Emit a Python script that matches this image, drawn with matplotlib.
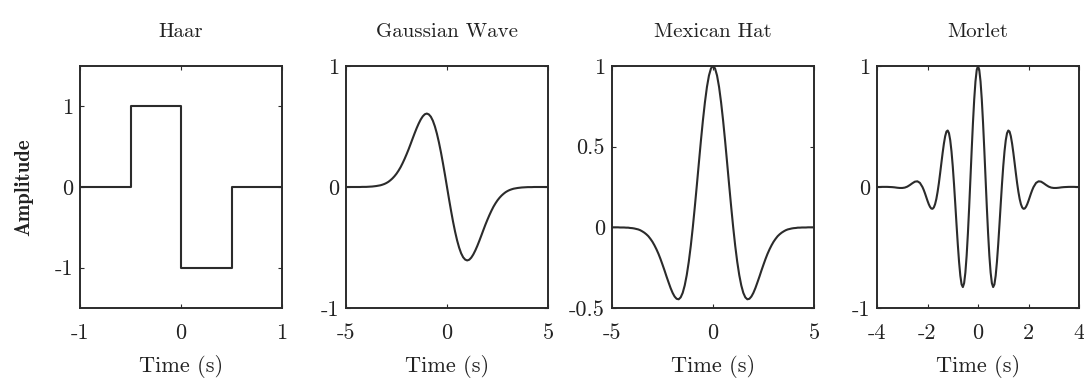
import matplotlib
matplotlib.use('Agg')
import matplotlib.pyplot as plt

plt.rcParams['font.family'] = 'cmr10'
plt.rcParams['axes.unicode_minus'] = False
plt.rcParams['mathtext.fontset'] = 'cm'

LINE = '#2b2b2b'
TEXT = '#222222'

# Haar (step function, value holds until next point)
haar_t = [-1, -0.5, 0, 0.5, 1]
haar_amp = [0, 1, -1, 0, 0]

# Gaussian wave and Mexican hat, read at 0.1 s steps
wave_t = [-5.0, -4.9, -4.8, -4.7, -4.6, -4.5, -4.4, -4.3, -4.2, -4.1,
          -4.0, -3.9, -3.8, -3.7, -3.6, -3.5, -3.4, -3.3, -3.2, -3.1,
          -3.0, -2.9, -2.8, -2.7, -2.6, -2.5, -2.4, -2.3, -2.2, -2.1,
          -2.0, -1.9, -1.8, -1.7, -1.6, -1.5, -1.4, -1.3, -1.2, -1.1,
          -1.0, -0.9, -0.8, -0.7, -0.6, -0.5, -0.4, -0.3, -0.2, -0.1,
          0.0,
          0.1, 0.2, 0.3, 0.4, 0.5, 0.6, 0.7, 0.8, 0.9, 1.0,
          1.1, 1.2, 1.3, 1.4, 1.5, 1.6, 1.7, 1.8, 1.9, 2.0,
          2.1, 2.2, 2.3, 2.4, 2.5, 2.6, 2.7, 2.8, 2.9, 3.0,
          3.1, 3.2, 3.3, 3.4, 3.5, 3.6, 3.7, 3.8, 3.9, 4.0,
          4.1, 4.2, 4.3, 4.4, 4.5, 4.6, 4.7, 4.8, 4.9, 5.0]

gauss_amp = [0, 0, 0, 0, 0, 0, 0, 0, 0.001, 0.001,
             0.001, 0.002, 0.003, 0.004, 0.006, 0.008, 0.011, 0.014, 0.019, 0.025,
             0.033, 0.043, 0.056, 0.071, 0.089, 0.110, 0.135, 0.163, 0.196, 0.232,
             0.271, 0.312, 0.356, 0.401, 0.445, 0.487, 0.525, 0.558, 0.584, 0.601,
             0.607, 0.600, 0.581, 0.548, 0.501, 0.441, 0.369, 0.287, 0.196, 0.100,
             0,
             -0.100, -0.196, -0.287, -0.369, -0.441, -0.501, -0.548, -0.581, -0.600, -0.607,
             -0.601, -0.584, -0.558, -0.525, -0.487, -0.445, -0.401, -0.356, -0.312, -0.271,
             -0.232, -0.196, -0.163, -0.135, -0.110, -0.089, -0.071, -0.056, -0.043, -0.033,
             -0.025, -0.019, -0.014, -0.011, -0.008, -0.006, -0.004, -0.003, -0.002, -0.001,
             -0.001, -0.001, 0, 0, 0, 0, 0, 0, 0, 0]

hat_amp = [0, 0, 0, 0, -0.001, -0.001, -0.001, -0.002, -0.002, -0.004,
           -0.005, -0.007, -0.010, -0.013, -0.018, -0.025, -0.033, -0.043, -0.055, -0.071,
           -0.089, -0.111, -0.136, -0.164, -0.196, -0.231, -0.267, -0.305, -0.341, -0.376,
           -0.406, -0.429, -0.443, -0.446, -0.434, -0.406, -0.360, -0.296, -0.214, -0.115,
           0, 0.127, 0.261, 0.399, 0.535, 0.662, 0.775, 0.870, 0.941, 0.985,
           1.0,
           0.985, 0.941, 0.870, 0.775, 0.662, 0.535, 0.399, 0.261, 0.127, 0,
           -0.115, -0.214, -0.296, -0.360, -0.406, -0.434, -0.446, -0.443, -0.429, -0.406,
           -0.376, -0.341, -0.305, -0.267, -0.231, -0.196, -0.164, -0.136, -0.111, -0.089,
           -0.071, -0.055, -0.043, -0.033, -0.025, -0.018, -0.013, -0.010, -0.007, -0.005,
           -0.004, -0.002, -0.002, -0.001, -0.001, -0.001, 0, 0, 0, 0]

# Morlet, finer reading where it oscillates
morlet_t = [-4.0, -3.9, -3.8, -3.7, -3.6, -3.5, -3.4, -3.3, -3.2, -3.1,
            -3.0, -2.9, -2.8, -2.7, -2.6, -2.5, -2.4, -2.3,
            -2.2, -2.15, -2.1, -2.05, -2.0, -1.95, -1.9, -1.85, -1.8, -1.75,
            -1.7, -1.65, -1.6, -1.55, -1.5, -1.45, -1.4, -1.35, -1.3, -1.25,
            -1.2, -1.15, -1.1, -1.05, -1.0, -0.95, -0.9, -0.85, -0.8, -0.75,
            -0.7, -0.65, -0.6, -0.55, -0.5, -0.45, -0.4, -0.35, -0.3, -0.25,
            -0.2, -0.15, -0.1, -0.05,
            0.0,
            0.05, 0.1, 0.15, 0.2,
            0.25, 0.3, 0.35, 0.4, 0.45, 0.5, 0.55, 0.6, 0.65, 0.7,
            0.75, 0.8, 0.85, 0.9, 0.95, 1.0, 1.05, 1.1, 1.15, 1.2,
            1.25, 1.3, 1.35, 1.4, 1.45, 1.5, 1.55, 1.6, 1.65, 1.7,
            1.75, 1.8, 1.85, 1.9, 1.95, 2.0, 2.05, 2.1, 2.15, 2.2,
            2.3, 2.4, 2.5, 2.6, 2.7, 2.8, 2.9, 3.0,
            3.1, 3.2, 3.3, 3.4, 3.5, 3.6, 3.7, 3.8, 3.9, 4.0]
morlet_amp = [0.0, 0.0, 0.001, 0.001, 0.001, 0.0, -0.001, -0.003, -0.006, -0.008,
              -0.008, -0.005, 0.003, 0.016, 0.031, 0.044, 0.047, 0.034,
              0.0, -0.024, -0.052, -0.083, -0.114, -0.142, -0.164, -0.178, -0.180, -0.169,
              -0.142, -0.099, -0.040, 0.031, 0.113, 0.199, 0.283, 0.359, 0.420, 0.458,
              0.467, 0.445, 0.387, 0.295, 0.172, 0.024, -0.141, -0.311, -0.475, -0.619,
              -0.733, -0.805, -0.827, -0.795, -0.707, -0.568, -0.384, -0.168, 0.068, 0.306,
              0.530, 0.724, 0.873, 0.968,
              1.0,
              0.968, 0.873, 0.724, 0.530,
              0.306, 0.068, -0.168, -0.384, -0.568, -0.707, -0.795, -0.827, -0.805, -0.733,
              -0.619, -0.475, -0.311, -0.141, 0.024, 0.172, 0.295, 0.387, 0.445, 0.467,
              0.458, 0.420, 0.359, 0.283, 0.199, 0.113, 0.031, -0.040, -0.099, -0.142,
              -0.169, -0.180, -0.178, -0.164, -0.142, -0.114, -0.083, -0.052, -0.024, 0.0,
              0.034, 0.047, 0.044, 0.031, 0.016, 0.003, -0.005, -0.008,
              -0.008, -0.006, -0.003, -0.001, 0.0, 0.001, 0.001, 0.001, 0.0, 0.0]

titles = ['Haar', 'Gaussian Wave', 'Mexican Hat', 'Morlet']
xlims = [(-1, 1), (-5, 5), (-5, 5), (-4, 4)]
ylims = [(-1.5, 1.5), (-1, 1), (-0.5, 1), (-1, 1)]
xticks = [[-1, 0, 1], [-5, 0, 5], [-5, 0, 5], [-4, -2, 0, 2, 4]]
xticklabels = [['-1', '0', '1'], ['-5', '0', '5'], ['-5', '0', '5'],
               ['-4', '-2', '0', '2', '4']]
yticks = [[-1, 0, 1], [-1, 0, 1], [-0.5, 0, 0.5, 1], [-1, 0, 1]]
yticklabels = [['-1', '0', '1'], ['-1', '0', '1'], ['-0.5', '0', '0.5', '1'],
               ['-1', '0', '1']]

series = [(haar_t, haar_amp), (wave_t, gauss_amp), (wave_t, hat_amp),
          (morlet_t, morlet_amp)]

W, H = 1084, 379
fig = plt.figure(figsize=(W / 100, H / 100), dpi=100)
lefts = [80, 346, 612, 877]
for i, left in enumerate(lefts):
    ax = fig.add_axes([left / W, 71 / H, 202 / W, 242 / H])
    t, a = series[i]
    if i == 0:
        ax.plot(t, a, color=LINE, linewidth=1.5, drawstyle='steps-post')
    else:
        ax.plot(t, a, color=LINE, linewidth=1.5)
    ax.set_xlim(*xlims[i])
    ax.set_ylim(*ylims[i])
    ax.set_xticks(xticks[i], xticklabels[i])
    ax.set_yticks(yticks[i], yticklabels[i])
    ax.tick_params(direction='in', top=True, right=True, length=3, width=0.8,
                   color=LINE, labelsize=16, labelcolor=TEXT)
    ax.tick_params(axis='x', pad=11)
    ax.tick_params(axis='y', pad=5)
    for s in ax.spines.values():
        s.set_color(LINE)
        s.set_linewidth(1.4)
    ax.set_title(titles[i], fontsize=15, pad=21, color=TEXT)
    ax.set_xlabel('Time (s)', fontsize=16, labelpad=9, color=TEXT)
    if i == 0:
        ax.set_ylabel('Amplitude', fontsize=15, family='cmb10', labelpad=15,
                      color=TEXT)

fig.savefig('out.png', dpi=100)
